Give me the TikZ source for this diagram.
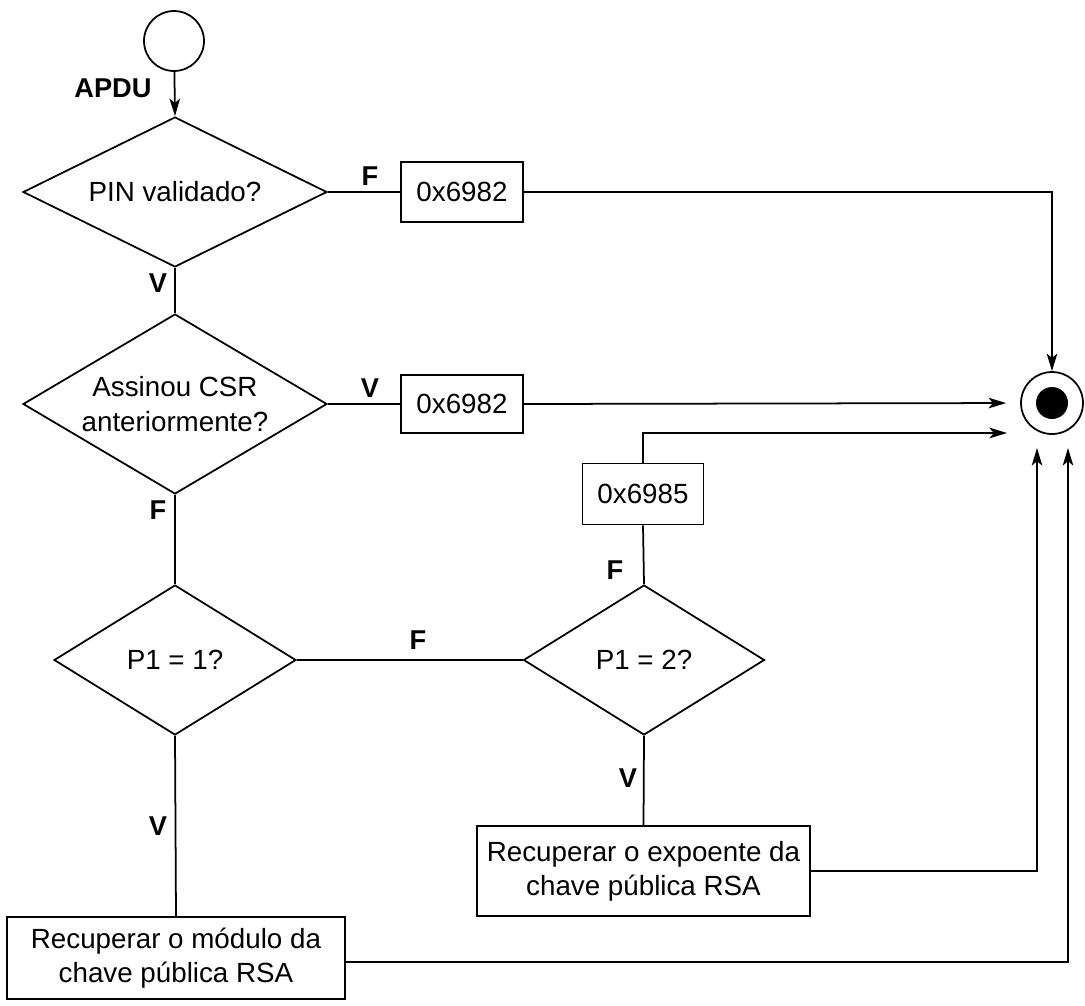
\documentclass[tikz,border=0pt]{standalone}
\usepackage{fontspec}
\setmainfont{Liberation Sans}
\usetikzlibrary{shapes.geometric,arrows.meta}
\begin{document}
\begin{tikzpicture}[x=0.02cm,y=-0.02cm, line width=1pt,
 every node/.style={font=\fontsize{15.8}{19.5}\selectfont},
 dec/.style={draw, diamond, aspect=2, inner sep=0pt, align=center},
 box/.style={draw, rectangle, inner sep=0pt, align=center},
 lbl/.style={font=\fontsize{15.5}{18}\selectfont\bfseries},
 arr/.style={-{Stealth[length=10pt,width=6pt,inset=2.5pt]}}]
\useasboundingbox (0,0) rectangle (1085,1005);
% start / end
\node[circle, draw, minimum size=1.2cm, inner sep=0pt] (start) at (174,41) {};
\node[circle, draw, minimum size=1.24cm, inner sep=0pt] (end) at (1052,403) {};
\node[circle, fill=black, minimum size=0.64cm, inner sep=0pt] (endin) at (1052,403) {};
% decisions
\node[dec, minimum width=6.08cm, minimum height=3cm] (d1) at (175,192) {PIN validado?};
\node[dec, minimum width=6.08cm, minimum height=3.6cm] (d2) at (175,404) {Assinou CSR\\anteriormente?};
\node[dec, minimum width=4.84cm, minimum height=3cm] (d3) at (175,660) {P1 = 1?};
\node[dec, minimum width=4.82cm, minimum height=3cm] (d4) at (644,660) {P1 = 2?};
% boxes
\node[box, minimum width=2.44cm, minimum height=1.2cm] (b1) at (462,192) {0x6982};
\node[box, minimum width=2.44cm, minimum height=1.16cm] (b2) at (462,404) {0x6982};
\node[box, minimum width=2.42cm, minimum height=1.22cm] (b3) at (643,494) {0x6985};
\node[box, minimum width=6.66cm, minimum height=1.8cm] (bexp) at (643.5,871) {Recuperar o expoente da\\chave pública RSA};
\node[box, minimum width=6.76cm, minimum height=1.64cm] (bmod) at (176,958) {Recuperar o módulo da\\chave pública RSA};
% free ends
\coordinate (e2) at (1007,433);
\coordinate (e3) at (1037,448);
\coordinate (e4) at (1068,448);
% connectors
\draw[arr] (start) -- (d1.north);
\draw (d1.east) -- (b1.west);
\draw[arr] (b1.east) -| (end.north);
\draw (d1.south) -- (d2.north);
\draw (d2.east) -- (b2.west);
\draw[arr, shorten >=0.28cm] (b2.east) -- (end.west);
\draw (d2.south) -- (d3.north);
\draw (d3.east) -- (d4.west);
\draw (d4.north) -- (b3.south);
\draw[arr] (b3.north) |- (e2);
\draw (d4.south) -- (bexp.north);
\draw[arr] (bexp.east) -| (e3);
\draw (d3.south) -- (bmod.north);
\draw[arr] (bmod.east |- 0,962) -| (e4);
% labels
\node[lbl] (lapdu) at (113,88) {APDU};
\node[lbl] (l1) at (370,176) {F};
\node[lbl] (l2) at (158,283) {V};
\node[lbl] (l3) at (370,388) {V};
\node[lbl] (l4) at (158,510) {F};
\node[lbl] (l5) at (418,640) {F};
\node[lbl] (l6) at (615,570) {F};
\node[lbl] (l7) at (628,778) {V};
\node[lbl] (l8) at (158,826) {V};
\end{tikzpicture}
\end{document}
